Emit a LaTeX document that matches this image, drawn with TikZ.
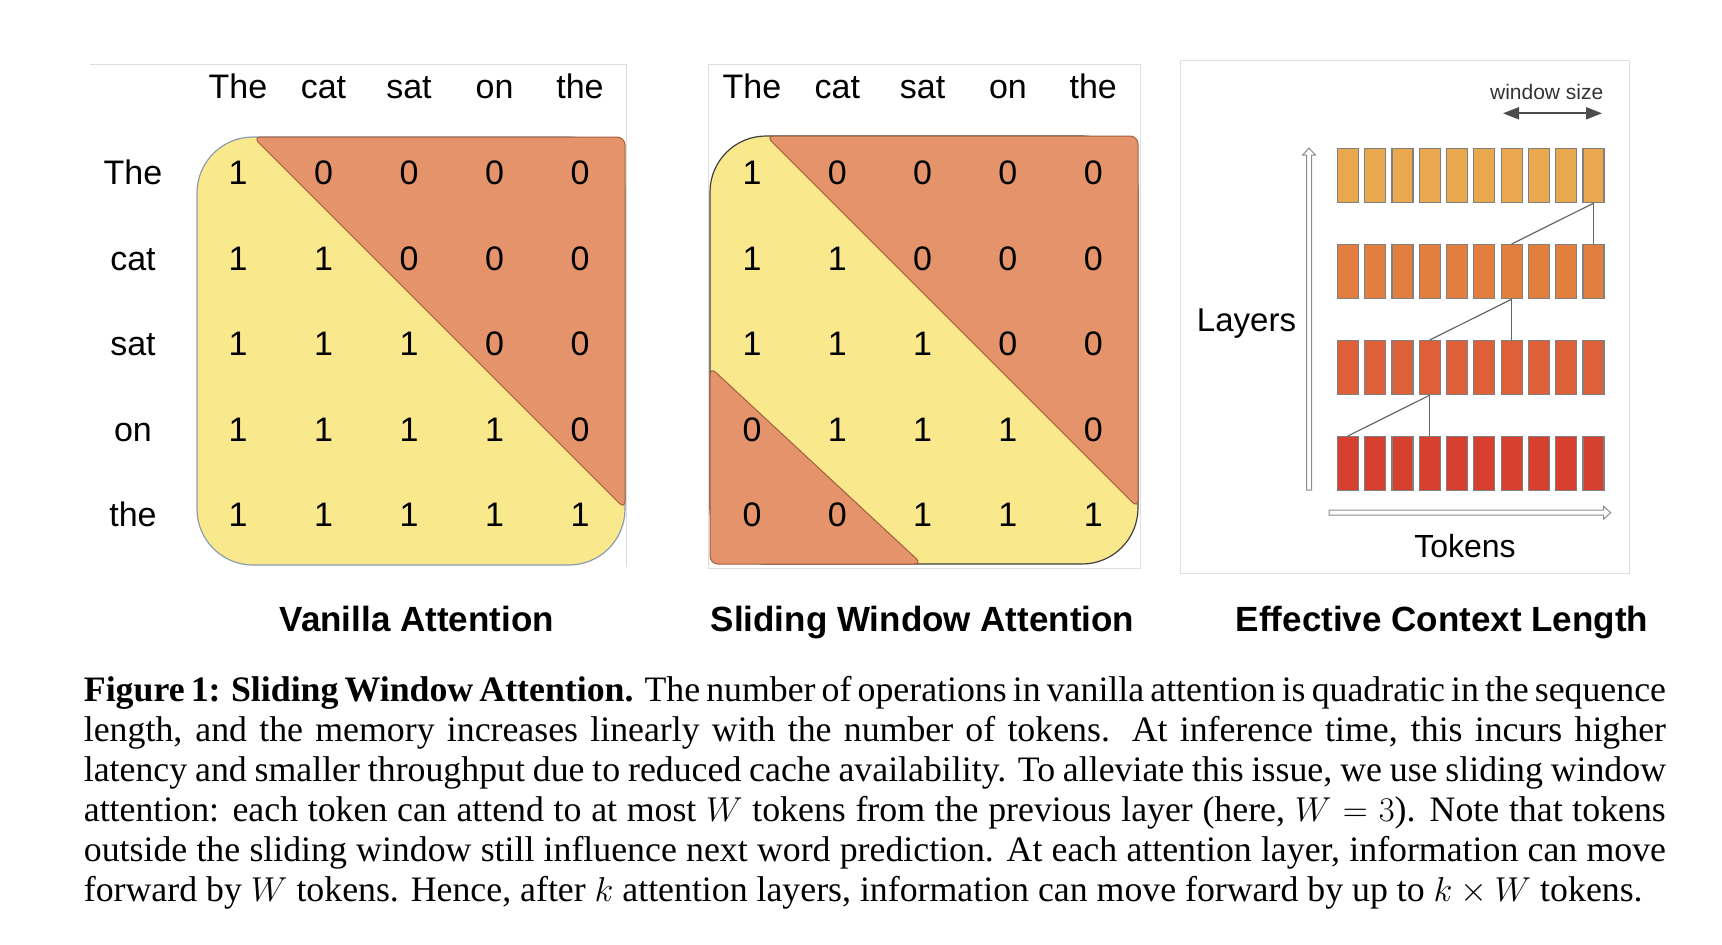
\documentclass[tikz,border=0pt]{standalone}
\usepackage{fontspec}
\setmainfont{Liberation Serif}
\setsansfont{Liberation Sans}
\usetikzlibrary{arrows.meta}

\definecolor{maskyellow}{HTML}{FAE98C}
\definecolor{maskorange}{HTML}{E4936A}
\definecolor{maskedge}{HTML}{A0603E}
\definecolor{vanillaline}{HTML}{8C9BB4}
\definecolor{panelgray}{HTML}{DEDEDE}
\definecolor{layerA}{HTML}{E9A84E}
\definecolor{layerB}{HTML}{E27F3F}
\definecolor{layerC}{HTML}{DE6038}
\definecolor{layerD}{HTML}{D7402F}

\tikzset{
  word/.style={font=\sffamily\fontsize{17}{20}\selectfont, inner sep=0pt, anchor=base},
  cell/.style={font=\sffamily\fontsize{17}{20}\selectfont, inner sep=0pt, anchor=base},
  title/.style={font=\sffamily\bfseries\fontsize{17.5}{21}\selectfont, inner sep=0pt, anchor=base},
  panel/.style={draw=panelgray, line width=0.5pt},
  mask/.style={fill=maskorange, draw=maskedge, line width=0.5pt, rounded corners=4pt},
  token/.style={draw=black!50, line width=0.6pt, minimum width=10.5pt, minimum height=27pt, inner sep=0pt, anchor=north west},
  link/.style={draw=black!60, line width=0.6pt},
  hollow/.style={draw=black!45, line width=0.5pt, fill=white}
}

\begin{document}
\begin{tikzpicture}[x=0.5pt, y=-0.5pt]
  \useasboundingbox (0,0) rectangle (1722,944);

  % Panel frames
  \draw[panel] (90,64) -- (626.7,64) -- (626.7,567);
  \draw[panel] (708,64) rectangle (1140,568);
  \draw[panel] (1180.6,60.4) rectangle (1629,573);

  % Vanilla attention mask
  \filldraw[fill=maskyellow, draw=vanillaline, line width=0.6pt, rounded corners=28pt] (197,137) rectangle (625,565);
  \filldraw[mask] (253,137) -- (625,137) -- (625,509) -- cycle;
  \foreach \w [count=\c] in {The,cat,sat,on,the} {
    \node[word] (vh\c) at ({238+85.5*(\c-1)}, 98.5) {\w};
    \node[word] (vr\c) at (133, {184.5+85.5*(\c-1)}) {\w};
  }
  \foreach \r in {1,...,5}
    \foreach \c in {1,...,5} {
      \pgfmathtruncatemacro\v{\c<=\r ? 1 : 0}
      \node[cell] (va\r\c) at ({238+85.5*(\c-1)}, {184.5+85.5*(\r-1)}) {\v};
    }

  % Sliding window mask
  \filldraw[fill=maskyellow, draw=black!75, line width=0.6pt, rounded corners=28pt] (710,136) rectangle (1138,564);
  \filldraw[mask] (766,136) -- (1138,136) -- (1138,508) -- cycle;
  \filldraw[mask] (710,367) -- (922,564) -- (710,564) -- cycle;
  \foreach \w [count=\c] in {The,cat,sat,on,the}
    \node[word] (sh\c) at ({752+85.3*(\c-1)}, 98.5) {\w};
  \foreach \r in {1,...,5}
    \foreach \c in {1,...,5} {
      \pgfmathtruncatemacro\v{(\c<=\r && \c>\r-3) ? 1 : 0}
      \node[cell] (sw\r\c) at ({752+85.3*(\c-1)}, {184.5+85.5*(\r-1)}) {\v};
    }

  % Effective context length
  \foreach \r/\col/\y in {1/layerA/148, 2/layerB/244, 3/layerC/340, 4/layerD/436}
    \foreach \c in {1,...,10}
      \node[token, fill=\col] (tok\r-\c) at ({1336.7+27.3*(\c-1)}, \y) {};
  \draw[link] (tok1-10.south) -- (tok2-7.north);
  \draw[link] (tok1-10.south) -- (tok2-10.north);
  \draw[link] (tok2-7.south) -- (tok3-4.north);
  \draw[link] (tok2-7.south) -- (tok3-7.north);
  \draw[link] (tok3-4.south) -- (tok4-1.north);
  \draw[link] (tok3-4.south) -- (tok4-4.north);

  % Axes
  \draw[hollow] (1306.5,490) -- (1306.5,155) -- (1302.7,155) -- (1309,148)
    -- (1315.3,155) -- (1311.5,155) -- (1311.5,490) -- cycle;
  \draw[hollow] (1329,510.2) -- (1603.7,510.2) -- (1603.7,506.4) -- (1610.7,512.7)
    -- (1603.7,519) -- (1603.7,515.2) -- (1329,515.2) -- cycle;
  \node[word, font=\sffamily\fontsize{16.5}{20}\selectfont] (layers) at (1246.5,331) {Layers};
  \node[word, font=\sffamily\fontsize{16}{20}\selectfont] (tokens) at (1465,557) {Tokens};

  % Window size
  \coordinate (wsL) at (1503,113.3);
  \coordinate (wsR) at (1602,113.3);
  \draw[{Triangle[length=8pt,width=6pt]}-{Triangle[length=8pt,width=6pt]}, black!70, line width=1pt] (wsL) -- (wsR);
  \node[word, font=\sffamily\fontsize{10.5}{12}\selectfont, text=black!80] (wsize) at (1546.7,99) {window size};

  % Titles
  \node[title] (vtitle) at (416.7,631) {Vanilla Attention};
  \node[title] (stitle) at (922.5,631) {Sliding Window Attention};
  \node[title] (etitle) at (1442,631) {Effective Context Length};

  % Caption
  \node[anchor=north west, inner sep=0pt, text width=791pt, align=justify,
        font=\fontsize{17.9}{20}\selectfont] (caption) at (83.5,676) {\noindent\emergencystretch=2em
    \textbf{Figure 1: Sliding Window Attention.} The number of operations in vanilla attention is quadratic in the sequence\linebreak
    length, and the memory increases linearly with the number of tokens. At inference time, this incurs higher\linebreak
    latency and smaller throughput due to reduced cache availability. To alleviate this issue, we use sliding window\linebreak
    attention: each token can attend to at most $W$ tokens from the previous layer (here, $W=3$). Note that tokens\linebreak
    outside the sliding window still influence next word prediction. At each attention layer, information can move\linebreak
    forward by $W$ tokens. Hence, after $k$ attention layers, information can move forward by up to $k\times W$ tokens.};
\end{tikzpicture}
\end{document}
